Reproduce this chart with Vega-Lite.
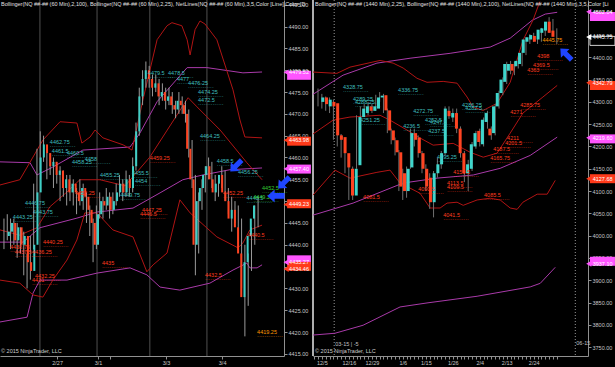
{
"$schema":"https://vega.github.io/schema/vega-lite/v6.json",
"background":"#000000",
"width":615,
"height":356,
"autosize":{"type":"none"},
"padding":{"left":0,"top":0,"right":0,"bottom":11},
"config":{"view":{"stroke":null},"text":{"font":"Liberation Sans"},"axis":{"labelFont":"Liberation Sans","labelFontSize":5.5,"labelColor":"#c8c8c8","domainColor":"#909090","tickColor":"#909090","grid":false,"title":null,"labelOverlap":false,"labelFlush":false,"labelBound":false,"tickSize":3,"labelPadding":1,"minExtent":0}},
"resolve":{"scale":{"x":"independent","y":"independent","color":"independent"},"axis":{"x":"independent","y":"independent"}},
"datasets":{
"lc":[
{"i":0,"o":4442,"h":4446,"l":4439,"c":4443},{"i":1,"o":4443,"h":4447,"l":4441,"c":4445},{"i":2,"o":4445,"h":4446,"l":4439,"c":4441},{"i":3,"o":4441,"h":4446,"l":4440,"c":4444},{"i":4,"o":4444,"h":4445,"l":4437,"c":4440},{"i":5,"o":4440,"h":4444,"l":4438,"c":4442},{"i":6,"o":4442,"h":4443,"l":4433,"c":4436},{"i":7,"o":4436,"h":4438,"l":4430,"c":4434},{"i":8,"o":4434,"h":4442,"l":4432,"c":4440},{"i":9,"o":4440,"h":4454,"l":4439,"c":4452},
{"i":10,"o":4452,"h":4462,"l":4450,"c":4460},{"i":11,"o":4460,"h":4466,"l":4457,"c":4463},{"i":12,"o":4463,"h":4465,"l":4459,"c":4461},{"i":13,"o":4461,"h":4462,"l":4455,"c":4458},{"i":14,"o":4458,"h":4461,"l":4456,"c":4459},{"i":15,"o":4459,"h":4460,"l":4453,"c":4456},{"i":16,"o":4456,"h":4459,"l":4454,"c":4457},{"i":17,"o":4457,"h":4458,"l":4450,"c":4453},{"i":18,"o":4453,"h":4457,"l":4451,"c":4455},{"i":19,"o":4455,"h":4456,"l":4449,"c":4452},
{"i":20,"o":4452,"h":4456,"l":4450,"c":4454},{"i":21,"o":4454,"h":4455,"l":4449,"c":4452},{"i":22,"o":4452,"h":4453,"l":4447,"c":4450},{"i":23,"o":4450,"h":4455,"l":4449,"c":4453},{"i":24,"o":4453,"h":4454,"l":4448,"c":4451},{"i":25,"o":4451,"h":4452,"l":4445,"c":4448},{"i":26,"o":4448,"h":4449,"l":4442,"c":4445},{"i":27,"o":4445,"h":4446,"l":4436,"c":4440},{"i":28,"o":4440,"h":4449,"l":4439,"c":4447},{"i":29,"o":4447,"h":4452,"l":4446,"c":4450},
{"i":30,"o":4450,"h":4451,"l":4446,"c":4449},{"i":31,"o":4449,"h":4453,"l":4448,"c":4451},{"i":32,"o":4451,"h":4452,"l":4446,"c":4448},{"i":33,"o":4448,"h":4452,"l":4447,"c":4450},{"i":34,"o":4450,"h":4454,"l":4449,"c":4452},{"i":35,"o":4452,"h":4456,"l":4451,"c":4454},{"i":36,"o":4454,"h":4455,"l":4450,"c":4452},{"i":37,"o":4452,"h":4457,"l":4451,"c":4455},{"i":38,"o":4455,"h":4456,"l":4451,"c":4453},{"i":39,"o":4453,"h":4460,"l":4452,"c":4458},
{"i":40,"o":4458,"h":4468,"l":4457,"c":4466},{"i":41,"o":4466,"h":4476,"l":4465,"c":4474},{"i":42,"o":4474,"h":4480,"l":4472,"c":4478},{"i":43,"o":4478,"h":4482,"l":4476,"c":4480},{"i":44,"o":4480,"h":4481,"l":4476,"c":4478},{"i":45,"o":4478,"h":4479,"l":4474,"c":4476},{"i":46,"o":4476,"h":4479,"l":4475,"c":4477},{"i":47,"o":4477,"h":4478,"l":4472,"c":4474},{"i":48,"o":4474,"h":4477,"l":4473,"c":4475},{"i":49,"o":4475,"h":4476,"l":4471,"c":4473},
{"i":50,"o":4473,"h":4476,"l":4472,"c":4474},{"i":51,"o":4474,"h":4475,"l":4470,"c":4472},{"i":52,"o":4472,"h":4473,"l":4469,"c":4471},{"i":53,"o":4471,"h":4475,"l":4470,"c":4473},{"i":54,"o":4473,"h":4474,"l":4470,"c":4472},{"i":55,"o":4472,"h":4473,"l":4468,"c":4470},{"i":56,"o":4470,"h":4471,"l":4460,"c":4462},{"i":57,"o":4462,"h":4464,"l":4453,"c":4455},{"i":58,"o":4455,"h":4456,"l":4433,"c":4440},{"i":59,"o":4440,"h":4452,"l":4438,"c":4450},
{"i":60,"o":4450,"h":4455,"l":4448,"c":4453},{"i":61,"o":4453,"h":4458,"l":4452,"c":4456},{"i":62,"o":4456,"h":4460,"l":4455,"c":4458},{"i":63,"o":4458,"h":4459,"l":4453,"c":4455},{"i":64,"o":4455,"h":4456,"l":4450,"c":4452},{"i":65,"o":4452,"h":4456,"l":4451,"c":4454},{"i":66,"o":4454,"h":4458,"l":4453,"c":4456},{"i":67,"o":4456,"h":4457,"l":4450,"c":4452},{"i":68,"o":4452,"h":4453,"l":4447,"c":4450},{"i":69,"o":4450,"h":4451,"l":4443,"c":4446},
{"i":70,"o":4446,"h":4450,"l":4445,"c":4448},{"i":71,"o":4448,"h":4449,"l":4441,"c":4444},{"i":72,"o":4444,"h":4446,"l":4430,"c":4438},{"i":73,"o":4438,"h":4440,"l":4419,"c":4428},{"i":74,"o":4428,"h":4438,"l":4426,"c":4436},{"i":75,"o":4436,"h":4444,"l":4434,"c":4442},{"i":76,"o":4442,"h":4449,"l":4440,"c":4446},{"i":77,"o":4446,"h":4451,"l":4444,"c":4449}
],
"rc":[
{"i":0,"o":4300,"h":4330,"l":4290,"c":4310},{"i":1,"o":4310,"h":4318,"l":4285,"c":4295},{"i":2,"o":4290,"h":4312,"l":4280,"c":4305},{"i":3,"o":4300,"h":4310,"l":4275,"c":4290},{"i":4,"o":4297,"h":4305,"l":4215,"c":4225},{"i":5,"o":4225,"h":4240,"l":4200,"c":4215},{"i":6,"o":4221,"h":4228,"l":4175,"c":4185},{"i":7,"o":4185,"h":4195,"l":4140,"c":4153},{"i":8,"o":4150,"h":4160,"l":4080,"c":4090},{"i":9,"o":4090,"h":4155,"l":4080,"c":4150},
{"i":10,"o":4158,"h":4270,"l":4150,"c":4266},{"i":11,"o":4266,"h":4290,"l":4260,"c":4285},{"i":12,"o":4275,"h":4295,"l":4270,"c":4290},{"i":13,"o":4290,"h":4300,"l":4270,"c":4280},{"i":14,"o":4280,"h":4295,"l":4275,"c":4290},{"i":15,"o":4285,"h":4316,"l":4280,"c":4310},{"i":16,"o":4310,"h":4322,"l":4300,"c":4314},{"i":17,"o":4315,"h":4318,"l":4275,"c":4281},{"i":18,"o":4281,"h":4285,"l":4230,"c":4236},{"i":19,"o":4236,"h":4240,"l":4205,"c":4214},
{"i":20,"o":4214,"h":4220,"l":4180,"c":4187},{"i":21,"o":4187,"h":4192,"l":4100,"c":4110},{"i":22,"o":4140,"h":4150,"l":4080,"c":4100},{"i":23,"o":4100,"h":4155,"l":4085,"c":4150},{"i":24,"o":4153,"h":4240,"l":4150,"c":4230},{"i":25,"o":4230,"h":4240,"l":4200,"c":4215},{"i":26,"o":4220,"h":4225,"l":4175,"c":4185},{"i":27,"o":4185,"h":4190,"l":4140,"c":4150},{"i":28,"o":4150,"h":4160,"l":4100,"c":4110},{"i":29,"o":4130,"h":4140,"l":4060,"c":4075},
{"i":30,"o":4075,"h":4145,"l":4041,"c":4140},{"i":31,"o":4140,"h":4175,"l":4130,"c":4160},{"i":32,"o":4160,"h":4190,"l":4150,"c":4185},{"i":33,"o":4185,"h":4290,"l":4180,"c":4285},{"i":34,"o":4280,"h":4290,"l":4262,"c":4268},{"i":35,"o":4265,"h":4285,"l":4255,"c":4275},{"i":36,"o":4275,"h":4285,"l":4230,"c":4240},{"i":37,"o":4240,"h":4245,"l":4175,"c":4185},{"i":38,"o":4185,"h":4190,"l":4120,"c":4140},{"i":39,"o":4140,"h":4170,"l":4100,"c":4160},
{"i":40,"o":4150,"h":4210,"l":4145,"c":4205},{"i":41,"o":4200,"h":4235,"l":4195,"c":4230},{"i":42,"o":4235,"h":4240,"l":4200,"c":4210},{"i":43,"o":4205,"h":4265,"l":4200,"c":4260},{"i":44,"o":4255,"h":4280,"l":4240,"c":4275},{"i":45,"o":4240,"h":4245,"l":4215,"c":4225},{"i":46,"o":4230,"h":4295,"l":4225,"c":4290},{"i":47,"o":4290,"h":4325,"l":4285,"c":4320},{"i":48,"o":4320,"h":4355,"l":4315,"c":4350},{"i":49,"o":4345,"h":4390,"l":4340,"c":4385},
{"i":50,"o":4370,"h":4392,"l":4362,"c":4385},{"i":51,"o":4385,"h":4390,"l":4360,"c":4370},{"i":52,"o":4380,"h":4398,"l":4375,"c":4392},{"i":53,"o":4385,"h":4415,"l":4380,"c":4410},{"i":54,"o":4410,"h":4445,"l":4405,"c":4440},{"i":55,"o":4435,"h":4452,"l":4430,"c":4445},{"i":56,"o":4440,"h":4455,"l":4435,"c":4450},{"i":57,"o":4448,"h":4452,"l":4430,"c":4435},{"i":58,"o":4440,"h":4466,"l":4435,"c":4462},{"i":59,"o":4455,"h":4470,"l":4448,"c":4465},
{"i":60,"o":4460,"h":4490,"l":4455,"c":4480},{"i":61,"o":4480,"h":4486,"l":4450,"c":4455},{"i":62,"o":4460,"h":4465,"l":4430,"c":4446}
],
"ll":[
{"s":"p1","x":-1.2,"y":4459.0},{"s":"p1","x":7.9,"y":4458.8},{"s":"p1","x":10,"y":4456.0},{"s":"p1","x":14.8,"y":4457.8},{"s":"p1","x":23.9,"y":4461.7},{"s":"p1","x":38.2,"y":4462.4},{"s":"p1","x":41.2,"y":4465.6},{"s":"p1","x":46.4,"y":4472.8},{"s":"p1","x":55.5,"y":4480.6},{"s":"p1","x":61.5,"y":4480.6},{"s":"p1","x":72.4,"y":4479.4},{"s":"p1","x":78.2,"y":4479.6},
{"s":"p2","x":-1.2,"y":4440.6},{"s":"p2","x":5.8,"y":4440.6},{"s":"p2","x":10.9,"y":4443.9},{"s":"p2","x":22.1,"y":4446.1},{"s":"p2","x":28.2,"y":4447.5},{"s":"p2","x":39.1,"y":4448.4},{"s":"p2","x":47.3,"y":4451.9},{"s":"p2","x":54.2,"y":4454.9},{"s":"p2","x":60.3,"y":4456.0},{"s":"p2","x":68.5,"y":4457.2},{"s":"p2","x":78.2,"y":4457.6},
{"s":"p3","x":-1.2,"y":4422.3},{"s":"p3","x":7.0,"y":4423.4},{"s":"p3","x":8.8,"y":4428.9},{"s":"p3","x":10.9,"y":4431.9},{"s":"p3","x":19.1,"y":4431.9},{"s":"p3","x":28.2,"y":4433.5},{"s":"p3","x":38.2,"y":4434.7},{"s":"p3","x":43.3,"y":4433.1},{"s":"p3","x":47.3,"y":4430.3},{"s":"p3","x":53.3,"y":4429.6},{"s":"p3","x":62.4,"y":4431.2},{"s":"p3","x":69.4,"y":4434.2},{"s":"p3","x":73.6,"y":4435.8},{"s":"p3","x":74.5,"y":4434.7},{"s":"p3","x":76.7,"y":4434.7},{"s":"p3","x":78.2,"y":4435.4},
{"s":"r1","x":-1.2,"y":4453.7},{"s":"r1","x":4.8,"y":4454.9},{"s":"r1","x":11.8,"y":4464.0},{"s":"r1","x":17.0,"y":4468.2},{"s":"r1","x":22.1,"y":4467.9},{"s":"r1","x":23.6,"y":4463.3},{"s":"r1","x":26.1,"y":4464.7},{"s":"r1","x":27.6,"y":4466.3},{"s":"r1","x":30.0,"y":4464.5},{"s":"r1","x":36.1,"y":4462.9},{"s":"r1","x":38.8,"y":4461.7},{"s":"r1","x":42.1,"y":4473.2},{"s":"r1","x":46.4,"y":4487.0},{"s":"r1","x":49.4,"y":4490.2},{"s":"r1","x":50.9,"y":4490.9},{"s":"r1","x":53.9,"y":4490.2},{"s":"r1","x":55.5,"y":4487.0},{"s":"r1","x":56.4,"y":4483.5},{"s":"r1","x":57.9,"y":4489.3},{"s":"r1","x":59.4,"y":4491.3},{"s":"r1","x":60.9,"y":4490.6},{"s":"r1","x":64.5,"y":4487.0},{"s":"r1","x":69.4,"y":4475.5},{"s":"r1","x":71.5,"y":4468.6},{"s":"r1","x":73.0,"y":4464.7},{"s":"r1","x":78.2,"y":4464.5},
{"s":"r2","x":-1.2,"y":4443.4},{"s":"r2","x":4.8,"y":4442.2},{"s":"r2","x":10.0,"y":4443.9},{"s":"r2","x":13.9,"y":4448.7},{"s":"r2","x":19.1,"y":4452.1},{"s":"r2","x":23.0,"y":4454.9},{"s":"r2","x":29.1,"y":4454.9},{"s":"r2","x":36.7,"y":4453.5},{"s":"r2","x":44.2,"y":4460.1},{"s":"r2","x":55.8,"y":4473.7},{"s":"r2","x":58.5,"y":4471.6},{"s":"r2","x":65.5,"y":4466.3},{"s":"r2","x":73.6,"y":4458.8},{"s":"r2","x":78.2,"y":4454.9},
{"s":"r3","x":-1.2,"y":4431.9},{"s":"r3","x":4.8,"y":4431.2},{"s":"r3","x":8.8,"y":4428.5},{"s":"r3","x":11.8,"y":4428.0},{"s":"r3","x":14.8,"y":4431.9},{"s":"r3","x":19.1,"y":4436.5},{"s":"r3","x":22.1,"y":4441.1},{"s":"r3","x":24.5,"y":4447.3},{"s":"r3","x":28.2,"y":4447.3},{"s":"r3","x":33.0,"y":4443.4},{"s":"r3","x":39.1,"y":4441.8},{"s":"r3","x":43.3,"y":4433.8},{"s":"r3","x":45.2,"y":4435.4},{"s":"r3","x":49.4,"y":4438.1},{"s":"r3","x":53.3,"y":4450.3},{"s":"r3","x":56.4,"y":4447.3},{"s":"r3","x":64.5,"y":4441.8},{"s":"r3","x":70.9,"y":4439.3},{"s":"r3","x":72.4,"y":4440.4},{"s":"r3","x":74.5,"y":4443.4},{"s":"r3","x":78.2,"y":4444.5}
],
"rl":[
{"s":"p1","x":-1.3,"y":4317},{"s":"p1","x":6.5,"y":4360},{"s":"p1","x":15.3,"y":4387},{"s":"p1","x":23.9,"y":4398},{"s":"p1","x":34.3,"y":4409},{"s":"p1","x":44.7,"y":4423},{"s":"p1","x":49.9,"y":4443},{"s":"p1","x":55.6,"y":4483},{"s":"p1","x":59.0,"y":4497},{"s":"p1","x":62.1,"y":4501},
{"s":"p2","x":-1.3,"y":4046},{"s":"p2","x":9.1,"y":4073},{"s":"p2","x":22.1,"y":4118},{"s":"p2","x":30.9,"y":4129},{"s":"p2","x":40.3,"y":4136},{"s":"p2","x":47.3,"y":4151},{"s":"p2","x":55.1,"y":4180},{"s":"p2","x":62.1,"y":4221},
{"s":"p3","x":-1.3,"y":3777},{"s":"p3","x":4.4,"y":3781},{"s":"p3","x":11.7,"y":3799},{"s":"p3","x":21.3,"y":3840},{"s":"p3","x":28.3,"y":3849},{"s":"p3","x":41.3,"y":3864},{"s":"p3","x":55.1,"y":3885},{"s":"p3","x":57.7,"y":3893},{"s":"p3","x":61.6,"y":3929},
{"s":"r1","x":-1.3,"y":4367},{"s":"r1","x":4.9,"y":4364},{"s":"r1","x":8.3,"y":4378},{"s":"r1","x":16.1,"y":4393},{"s":"r1","x":19.5,"y":4387},{"s":"r1","x":22.1,"y":4376},{"s":"r1","x":25.7,"y":4353},{"s":"r1","x":28.3,"y":4344},{"s":"r1","x":32.5,"y":4346},{"s":"r1","x":36.1,"y":4342},{"s":"r1","x":38.7,"y":4311},{"s":"r1","x":40.3,"y":4288},{"s":"r1","x":42.9,"y":4281},{"s":"r1","x":46.5,"y":4297},{"s":"r1","x":49.9,"y":4344},{"s":"r1","x":53.2,"y":4438},{"s":"r1","x":55.8,"y":4483},{"s":"r1","x":57.6,"y":4525},
{"s":"r2","x":-1.3,"y":4228},{"s":"r2","x":3.9,"y":4259},{"s":"r2","x":8.3,"y":4266},{"s":"r2","x":16.1,"y":4270},{"s":"r2","x":18.7,"y":4259},{"s":"r2","x":23.1,"y":4237},{"s":"r2","x":26.5,"y":4219},{"s":"r2","x":29.9,"y":4203},{"s":"r2","x":35.1,"y":4207},{"s":"r2","x":39.5,"y":4187},{"s":"r2","x":42.9,"y":4176},{"s":"r2","x":46.5,"y":4185},{"s":"r2","x":49.9,"y":4230},{"s":"r2","x":53.2,"y":4275},{"s":"r2","x":58.4,"y":4311},{"s":"r2","x":62.1,"y":4337},
{"s":"r3","x":-1.3,"y":4091},{"s":"r3","x":4.4,"y":4147},{"s":"r3","x":8.3,"y":4129},{"s":"r3","x":15.3,"y":4142},{"s":"r3","x":18.7,"y":4147},{"s":"r3","x":21.3,"y":4118},{"s":"r3","x":26.5,"y":4095},{"s":"r3","x":29.1,"y":4062},{"s":"r3","x":31.7,"y":4062},{"s":"r3","x":33.5,"y":4073},{"s":"r3","x":36.1,"y":4075},{"s":"r3","x":37.7,"y":4068},{"s":"r3","x":41.3,"y":4080},{"s":"r3","x":44.7,"y":4084},{"s":"r3","x":47.3,"y":4080},{"s":"r3","x":49.9,"y":4062},{"s":"r3","x":51.7,"y":4059},{"s":"r3","x":53.2,"y":4075},{"s":"r3","x":56.9,"y":4093},{"s":"r3","x":59.5,"y":4093},{"s":"r3","x":61.6,"y":4124}
],
"llab":[
{"x":13.9,"y":4463.6,"t":"4462.75","k":"c"},{"x":14.5,"y":4461.6,"t":"4461.5","k":"c"},{"x":19.1,"y":4461.0,"t":"4460.5","k":"c"},{"x":20.6,"y":4459.0,"t":"4458.25","k":"c"},{"x":24.5,"y":4459.6,"t":"4458","k":"c"},{"x":29.1,"y":4456.0,"t":"4455.25","k":"c"},{"x":38.8,"y":4456.5,"t":"4455.5","k":"c"},{"x":39.7,"y":4454.6,"t":"4454","k":"c"},{"x":43.6,"y":4479.4,"t":"4479.5","k":"c"},{"x":49.7,"y":4479.4,"t":"4478.5","k":"c"},{"x":52.4,"y":4478.0,"t":"4477","k":"c"},{"x":55.8,"y":4477.1,"t":"4476.25","k":"c"},{"x":58.8,"y":4475.0,"t":"4474.25","k":"c"},{"x":58.8,"y":4473.2,"t":"4472.5","k":"c"},{"x":59.4,"y":4465.0,"t":"4464.25","k":"c"},{"x":64.5,"y":4459.2,"t":"4458.5","k":"c"},{"x":70.9,"y":4456.7,"t":"4456.25","k":"c"},{"x":6.4,"y":4449.6,"t":"4446.75","k":"c"},{"x":8.8,"y":4447.5,"t":"4443.75","k":"c"},{"x":2.7,"y":4446.4,"t":"4443.25","k":"c"},{"x":35.2,"y":4451.4,"t":"4449.75","k":"c"},{"x":73.5,"y":4450.8,"t":"4448.5","k":"c"},
{"x":44.2,"y":4459.9,"t":"4459.25","k":"r"},{"x":21.5,"y":4451.9,"t":"4452.25","k":"r"},{"x":66.4,"y":4451.9,"t":"4452.25","k":"r"},{"x":41.8,"y":4448.0,"t":"4447.25","k":"r"},{"x":41.2,"y":4447.1,"t":"4446.5","k":"r"},{"x":11.8,"y":4440.6,"t":"4440.25","k":"r"},{"x":1.8,"y":4439.5,"t":"4438.75","k":"r"},{"x":3.3,"y":4438.3,"t":"4437.5","k":"r"},{"x":8.5,"y":4438.3,"t":"4436.25","k":"r"},{"x":29.7,"y":4435.8,"t":"4435","k":"r"},{"x":9.4,"y":4432.8,"t":"4432.25","k":"r"},{"x":8.5,"y":4431.9,"t":"4431","k":"r"},{"x":73.9,"y":4442.2,"t":"4440.5","k":"r"},{"x":60.9,"y":4433.1,"t":"4432.5","k":"r"},
{"x":76.7,"y":4420.0,"t":"4419.25","k":"o"},{"x":78.2,"y":4453.0,"t":"4452.5","k":"g"},{"x":75.5,"y":4451.0,"t":"4449.25","k":"g"}
],
"rlab":[
{"x":6.5,"y":4333,"t":"4328.75","k":"c"},{"x":9.1,"y":4306,"t":"4289.25","k":"c"},{"x":9.6,"y":4299,"t":"4288.25","k":"c"},{"x":20.8,"y":4326,"t":"4336.75","k":"c"},{"x":24.7,"y":4279,"t":"4272.75","k":"c"},{"x":10.9,"y":4259,"t":"4251.25","k":"c"},{"x":22.1,"y":4245,"t":"4236.5","k":"c"},{"x":27.8,"y":4259,"t":"4252.5","k":"c"},{"x":29.1,"y":4254,"t":"4247.5","k":"c"},{"x":28.6,"y":4234,"t":"4237.5","k":"c"},{"x":37.4,"y":4293,"t":"4286.25","k":"c"},{"x":38.2,"y":4286,"t":"4282.5","k":"c"},{"x":30.9,"y":4176,"t":"4195.25","k":"c"},
{"x":11.7,"y":4086,"t":"4081.5","k":"r"},{"x":26,"y":4104,"t":"4090.5","k":"r"},{"x":33.5,"y":4118,"t":"4113.5","k":"r"},{"x":33.5,"y":4109,"t":"4109.5","k":"r"},{"x":32.5,"y":4046,"t":"4041.5","k":"r"},{"x":43.1,"y":4091,"t":"4085.5","k":"r"},{"x":56.9,"y":4402,"t":"4398","k":"r"},{"x":55.8,"y":4382,"t":"4369.5","k":"r"},{"x":54.3,"y":4371,"t":"4363","k":"r"},{"x":52.5,"y":4293,"t":"4285.75","k":"r"},{"x":49.9,"y":4277,"t":"4271","k":"r"},{"x":49.1,"y":4219,"t":"4211","k":"r"},{"x":48.6,"y":4207,"t":"4201.5","k":"r"},{"x":45.5,"y":4194,"t":"4187.5","k":"r"},{"x":44.7,"y":4174,"t":"4165.75","k":"r"},{"x":35.1,"y":4142,"t":"4159.5","k":"r"},
{"x":58.3,"y":4438,"t":"4445.75","k":"o"}
],
"ltag":[{"v":4479.52,"t":"4479.52","k":"m"},{"v":4463.98,"t":"4463.98","k":"r"},{"v":4457.40,"t":"4457.40","k":"m"},{"v":4449.23,"t":"4449.23","k":"r"},{"v":4436.0,"t":"4435.27","k":"m"},{"v":4434.46,"t":"4434.46","k":"r"}],
"rtag":[{"v":4502.04,"t":"4502.04","k":"m"},{"v":4445.75,"t":"4445.75","k":"w"},{"v":4342.79,"t":"4342.79","k":"r"},{"v":4219.60,"t":"4219.60","k":"m"},{"v":4127.68,"t":"4127.68","k":"r"},{"v":3937.10,"t":"3937.10","k":"m"}]
},
"layer":[
{"data":{"values":[{"x":10.9},{"x":28.2},{"x":44.2},{"x":61.5}]},"mark":{"type":"rule","color":"#505050","strokeWidth":1},"encoding":{"x":{"field":"x","type":"quantitative","scale":{"domain":[-1.2,84.85],"range":[0,284],"nice":false,"zero":false},"axis":null}}},
{"data":{"name":"ll"},"mark":{"type":"line","strokeWidth":1},"encoding":{"x":{"field":"x","type":"quantitative","scale":{"domain":[-1.2,84.85],"range":[0,284],"nice":false,"zero":false},"axis":null},"y":{"field":"y","type":"quantitative","scale":{"domain":[4414.5,4496.1],"range":[356,0],"nice":false,"zero":false},"axis":null},"color":{"field":"s","type":"nominal","scale":{"domain":["p1","p2","p3","r1","r2","r3"],"range":["#a93aa9","#a93aa9","#a93aa9","#b01414","#b01414","#b01414"]},"legend":null}}},
{"data":{"name":"lc"},"mark":{"type":"rule","color":"#9a9a9a","strokeWidth":1},"encoding":{"x":{"field":"i","type":"quantitative","scale":{"domain":[-1.2,84.85],"range":[0,284],"nice":false,"zero":false},"axis":{"orient":"bottom","values":[16.1,28.5,32.1,49.1,66.1],"labelExpr":"datum.value==16.1?'2/27':datum.value==28.5?'3/1':datum.value==49.1?'3/3':datum.value==66.1?'3/4':''"}},"y":{"field":"l","type":"quantitative","scale":{"domain":[4414.5,4496.1],"range":[356,0],"nice":false,"zero":false},"axis":{"orient":"right","offset":-331,"values":[4415,4420,4425,4430,4435,4440,4445,4450,4455,4460,4465,4470,4475,4480,4485,4490,4495],"format":".2f"}},"y2":{"field":"h"}}},
{"data":{"name":"lc"},"mark":{"type":"bar","size":2,"orient":"vertical"},"encoding":{"x":{"field":"i","type":"quantitative","scale":{"domain":[-1.2,84.85],"range":[0,284],"nice":false,"zero":false},"axis":null},"y":{"field":"o","type":"quantitative","scale":{"domain":[4414.5,4496.1],"range":[356,0],"nice":false,"zero":false},"axis":null},"y2":{"field":"c"},"color":{"condition":{"test":"datum.c>=datum.o","value":"#3fcfc6"},"value":"#ff4422"}}},
{"data":{"name":"llab"},"mark":{"type":"text","align":"left","baseline":"middle","fontSize":5.5},"encoding":{"x":{"field":"x","type":"quantitative","scale":{"domain":[-1.2,84.85],"range":[0,284],"nice":false,"zero":false},"axis":null},"y":{"field":"y","type":"quantitative","scale":{"domain":[4414.5,4496.1],"range":[356,0],"nice":false,"zero":false},"axis":null},"text":{"field":"t"},"color":{"field":"k","type":"nominal","scale":{"domain":["c","r","o","g"],"range":["#3fbfbf","#ff3b1f","#ff9900","#33cc33"]},"legend":null}}},
{"data":{"name":"llab"},"mark":{"type":"text","align":"left","baseline":"middle","fontSize":5.5,"dy":4,"text":"··············"},"encoding":{"x":{"field":"x","type":"quantitative","scale":{"domain":[-1.2,84.85],"range":[0,284],"nice":false,"zero":false},"axis":null},"y":{"field":"y","type":"quantitative","scale":{"domain":[4414.5,4496.1],"range":[356,0],"nice":false,"zero":false},"axis":null},"color":{"field":"k","type":"nominal","scale":{"domain":["c","r","o","g"],"range":["#3fbfbf","#ff3b1f","#ff9900","#33cc33"]},"legend":null}}},
{"data":{"values":[{"t":"Bollinger(NQ ##-## (60 Min),2,100), Bollinger(NQ ##-## (60 Min),2,25), NetLines(NQ ##-## (60 Min),3,5,Color [Line],Color [D"}]},"mark":{"type":"text","align":"left","baseline":"top","fontSize":5.5,"dx":1,"dy":2,"color":"#e0e0e0"},"encoding":{"x":{"datum":-1.2,"type":"quantitative","scale":{"domain":[-1.2,84.85],"range":[0,284],"nice":false,"zero":false},"axis":null},"y":{"datum":4496.1,"type":"quantitative","scale":{"domain":[4414.5,4496.1],"range":[356,0],"nice":false,"zero":false},"axis":null},"text":{"field":"t"}}},
{"data":{"values":[{"t":"© 2015 NinjaTrader, LLC"}]},"mark":{"type":"text","align":"left","baseline":"middle","fontSize":5.5,"dx":1,"color":"#d0d0d0"},"encoding":{"x":{"datum":-1.2,"type":"quantitative","scale":{"domain":[-1.2,84.85],"range":[0,284],"nice":false,"zero":false},"axis":null},"y":{"datum":4415.6,"type":"quantitative","scale":{"domain":[4414.5,4496.1],"range":[356,0],"nice":false,"zero":false},"axis":null},"text":{"field":"t"}}},
{"data":{"name":"ltag"},"mark":{"type":"bar","orient":"horizontal","size":9},"encoding":{"x":{"datum":85.8,"type":"quantitative","scale":{"domain":[-1.2,84.85],"range":[0,284],"nice":false,"zero":false},"axis":null},"x2":{"datum":93.0},"y":{"field":"v","type":"quantitative","scale":{"domain":[4414.5,4496.1],"range":[356,0],"nice":false,"zero":false},"axis":null},"color":{"field":"k","type":"nominal","scale":{"domain":["m","r","w"],"range":["#ff55ff","#ff3a1a","#000000"]},"legend":null}}},
{"data":{"name":"ltag"},"mark":{"type":"point","shape":"triangle-left","filled":true,"size":35,"opacity":1},"encoding":{"x":{"datum":85.5,"type":"quantitative","scale":{"domain":[-1.2,84.85],"range":[0,284],"nice":false,"zero":false},"axis":null},"y":{"field":"v","type":"quantitative","scale":{"domain":[4414.5,4496.1],"range":[356,0],"nice":false,"zero":false},"axis":null},"color":{"field":"k","type":"nominal","scale":{"domain":["m","r","w"],"range":["#ff55ff","#ff3a1a","#000000"]},"legend":null}}},
{"data":{"name":"ltag"},"mark":{"type":"text","align":"center","baseline":"middle","fontSize":5.5,"color":"#ffffff"},"encoding":{"x":{"datum":89.4,"type":"quantitative","scale":{"domain":[-1.2,84.85],"range":[0,284],"nice":false,"zero":false},"axis":null},"y":{"field":"v","type":"quantitative","scale":{"domain":[4414.5,4496.1],"range":[356,0],"nice":false,"zero":false},"axis":null},"text":{"field":"t"}}},
{"data":{"values":[{"x":70.3,"y":4458.1},{"x":84.8,"y":4454.2}]},"mark":{"type":"point","shape":"M -1 0 L -0.15 -0.75 L -0.15 -0.32 L 1 -0.32 L 1 0.32 L -0.15 0.32 L -0.15 0.75 Z","filled":true,"size":260,"angle":315,"color":"#1f45ff","opacity":1},"encoding":{"x":{"field":"x","type":"quantitative","scale":{"domain":[-1.2,84.85],"range":[0,284],"nice":false,"zero":false},"axis":null},"y":{"field":"y","type":"quantitative","scale":{"domain":[4414.5,4496.1],"range":[356,0],"nice":false,"zero":false},"axis":null}}},
{"data":{"values":[{"x":82.4,"y":4451.2}]},"mark":{"type":"point","shape":"M -1 0 L -0.15 -0.75 L -0.15 -0.32 L 1 -0.32 L 1 0.32 L -0.15 0.32 L -0.15 0.75 Z","filled":true,"size":300,"color":"#1f45ff","opacity":1},"encoding":{"x":{"field":"x","type":"quantitative","scale":{"domain":[-1.2,84.85],"range":[0,284],"nice":false,"zero":false},"axis":null},"y":{"field":"y","type":"quantitative","scale":{"domain":[4414.5,4496.1],"range":[356,0],"nice":false,"zero":false},"axis":null}}},
{"data":{"values":[{"x":-1.3}]},"mark":{"type":"rule","color":"#e8e8e8","strokeWidth":1.5},"encoding":{"x":{"field":"x","type":"quantitative","scale":{"domain":[-1.3,70.1],"range":[313,588],"nice":false,"zero":false},"axis":null}}},
{"data":{"values":[{"x":4.2},{"x":66.8}]},"mark":{"type":"rule","color":"#9a9a9a","strokeWidth":1,"strokeDash":[1,2]},"encoding":{"x":{"field":"x","type":"quantitative","scale":{"domain":[-1.3,70.1],"range":[313,588],"nice":false,"zero":false},"axis":null}}},
{"data":{"name":"rl"},"mark":{"type":"line","strokeWidth":1},"encoding":{"x":{"field":"x","type":"quantitative","scale":{"domain":[-1.3,70.1],"range":[313,588],"nice":false,"zero":false},"axis":null},"y":{"field":"y","type":"quantitative","scale":{"domain":[3730,4528.6],"range":[356,0],"nice":false,"zero":false},"axis":null},"color":{"field":"s","type":"nominal","scale":{"domain":["p1","p2","p3","r1","r2","r3"],"range":["#a93aa9","#a93aa9","#a93aa9","#b01414","#b01414","#b01414"]},"legend":null}}},
{"data":{"name":"rc"},"mark":{"type":"rule","color":"#707070","strokeWidth":1},"encoding":{"x":{"field":"i","type":"quantitative","scale":{"domain":[-1.3,70.1],"range":[313,588],"nice":false,"zero":false},"axis":{"orient":"bottom","values":[-1,0,1,2,3,4,5,6,7,8,9,10,11,12,13,14,15,16,17,18,19,20,21,22,23,24,25,26,27,28,29,30,31,32,33,34,35,36,37,38,39,40,41,42,43,44,45,46,47,48,49,50,51,52,53,54,55,56,57,58,59,60,61,62],"labelExpr":"datum.value==1?'12/5':datum.value==8?'12/16':datum.value==14?'12/29':datum.value==22?'1/6':datum.value==28?'1/15':datum.value==35?'1/26':datum.value==42?'2/4':datum.value==49?'2/13':datum.value==56?'2/24':''"}},"y":{"field":"l","type":"quantitative","scale":{"domain":[3730,4528.6],"range":[356,0],"nice":false,"zero":false},"axis":{"orient":"right","offset":-27,"values":[3750,3800,3850,3900,3950,4000,4050,4100,4150,4200,4250,4300,4350,4400,4450,4500],"format":".2f"}},"y2":{"field":"h"}}},
{"data":{"name":"rc"},"mark":{"type":"bar","size":3,"orient":"vertical"},"encoding":{"x":{"field":"i","type":"quantitative","scale":{"domain":[-1.3,70.1],"range":[313,588],"nice":false,"zero":false},"axis":null},"y":{"field":"o","type":"quantitative","scale":{"domain":[3730,4528.6],"range":[356,0],"nice":false,"zero":false},"axis":null},"y2":{"field":"c"},"color":{"condition":{"test":"datum.c>=datum.o","value":"#3fd6cc"},"value":"#ff4422"}}},
{"data":{"name":"rlab"},"mark":{"type":"text","align":"left","baseline":"middle","fontSize":5.5},"encoding":{"x":{"field":"x","type":"quantitative","scale":{"domain":[-1.3,70.1],"range":[313,588],"nice":false,"zero":false},"axis":null},"y":{"field":"y","type":"quantitative","scale":{"domain":[3730,4528.6],"range":[356,0],"nice":false,"zero":false},"axis":null},"text":{"field":"t"},"color":{"field":"k","type":"nominal","scale":{"domain":["c","r","o","g"],"range":["#3fbfbf","#ff3b1f","#ff9900","#33cc33"]},"legend":null}}},
{"data":{"name":"rlab"},"mark":{"type":"text","align":"left","baseline":"middle","fontSize":5.5,"dy":4,"text":"··············"},"encoding":{"x":{"field":"x","type":"quantitative","scale":{"domain":[-1.3,70.1],"range":[313,588],"nice":false,"zero":false},"axis":null},"y":{"field":"y","type":"quantitative","scale":{"domain":[3730,4528.6],"range":[356,0],"nice":false,"zero":false},"axis":null},"color":{"field":"k","type":"nominal","scale":{"domain":["c","r","o","g"],"range":["#3fbfbf","#ff3b1f","#ff9900","#33cc33"]},"legend":null}}},
{"data":{"values":[{"t":"Bollinger(NQ ##-## (1440 Min),2,25), Bollinger(NQ ##-## (1440 Min),2,100), NetLines(NQ ##-## (1440 Min),3,5,Color [Li"}]},"mark":{"type":"text","align":"left","baseline":"top","fontSize":5.5,"dx":2,"dy":2,"color":"#e0e0e0"},"encoding":{"x":{"datum":-1.3,"type":"quantitative","scale":{"domain":[-1.3,70.1],"range":[313,588],"nice":false,"zero":false},"axis":null},"y":{"datum":4528.6,"type":"quantitative","scale":{"domain":[3730,4528.6],"range":[356,0],"nice":false,"zero":false},"axis":null},"text":{"field":"t"}}},
{"data":{"values":[{"t":"© 2015 NinjaTrader, LLC"}]},"mark":{"type":"text","align":"left","baseline":"middle","fontSize":5.5,"dx":2,"color":"#d0d0d0"},"encoding":{"x":{"datum":-1.3,"type":"quantitative","scale":{"domain":[-1.3,70.1],"range":[313,588],"nice":false,"zero":false},"axis":null},"y":{"datum":3741,"type":"quantitative","scale":{"domain":[3730,4528.6],"range":[356,0],"nice":false,"zero":false},"axis":null},"text":{"field":"t"}}},
{"data":{"values":[{"x":4.2,"y":3756,"t":"03-15 | -5"},{"x":66.8,"y":3760,"t":"06-15"}]},"mark":{"type":"text","align":"left","baseline":"middle","fontSize":5.5,"dx":1,"color":"#c0c0c0"},"encoding":{"x":{"field":"x","type":"quantitative","scale":{"domain":[-1.3,70.1],"range":[313,588],"nice":false,"zero":false},"axis":null},"y":{"field":"y","type":"quantitative","scale":{"domain":[3730,4528.6],"range":[356,0],"nice":false,"zero":false},"axis":null},"text":{"field":"t"}}},
{"data":{"name":"rtag"},"mark":{"type":"bar","orient":"horizontal","size":9,"strokeWidth":0.8},"encoding":{"x":{"datum":70.6,"type":"quantitative","scale":{"domain":[-1.3,70.1],"range":[313,588],"nice":false,"zero":false},"axis":null},"x2":{"datum":77.1},"y":{"field":"v","type":"quantitative","scale":{"domain":[3730,4528.6],"range":[356,0],"nice":false,"zero":false},"axis":null},"color":{"field":"k","type":"nominal","scale":{"domain":["m","r","w"],"range":["#ff55ff","#ff3a1a","#000000"]},"legend":null},"stroke":{"condition":{"test":"datum.k=='w'","value":"#ffffff"},"value":"transparent"}}},
{"data":{"name":"rtag"},"mark":{"type":"point","shape":"triangle-left","filled":true,"size":35,"opacity":1},"encoding":{"x":{"datum":70.3,"type":"quantitative","scale":{"domain":[-1.3,70.1],"range":[313,588],"nice":false,"zero":false},"axis":null},"y":{"field":"v","type":"quantitative","scale":{"domain":[3730,4528.6],"range":[356,0],"nice":false,"zero":false},"axis":null},"color":{"field":"k","type":"nominal","scale":{"domain":["m","r","w"],"range":["#ff55ff","#ff3a1a","#ffffff"]},"legend":null}}},
{"data":{"name":"rtag"},"mark":{"type":"text","align":"center","baseline":"middle","fontSize":5.5,"color":"#ffffff"},"encoding":{"x":{"datum":73.9,"type":"quantitative","scale":{"domain":[-1.3,70.1],"range":[313,588],"nice":false,"zero":false},"axis":null},"y":{"field":"v","type":"quantitative","scale":{"domain":[3730,4528.6],"range":[356,0],"nice":false,"zero":false},"axis":null},"text":{"field":"t"}}},
{"data":{"values":[{"x":64.4,"y":4407}]},"mark":{"type":"point","shape":"M -1 0 L -0.15 -0.75 L -0.15 -0.32 L 1 -0.32 L 1 0.32 L -0.15 0.32 L -0.15 0.75 Z","filled":true,"size":260,"angle":45,"color":"#1f45ff","opacity":1},"encoding":{"x":{"field":"x","type":"quantitative","scale":{"domain":[-1.3,70.1],"range":[313,588],"nice":false,"zero":false},"axis":null},"y":{"field":"y","type":"quantitative","scale":{"domain":[3730,4528.6],"range":[356,0],"nice":false,"zero":false},"axis":null}}}
]
}
